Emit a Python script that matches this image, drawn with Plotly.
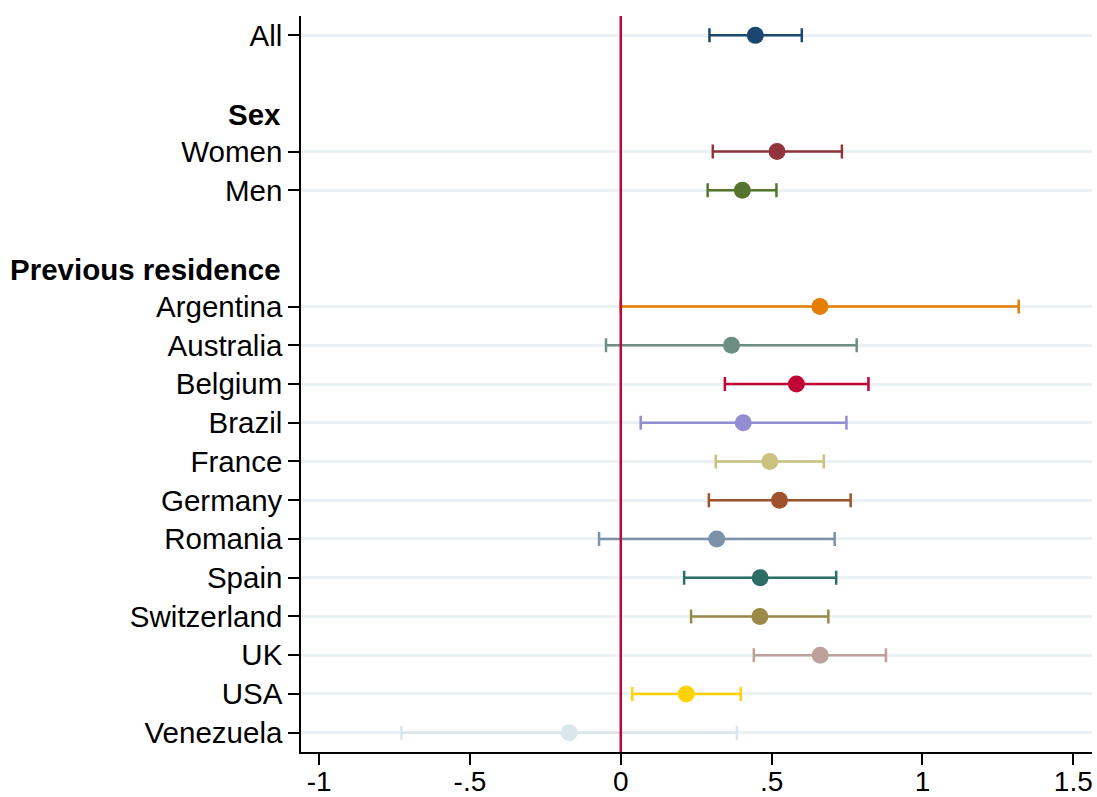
import plotly.graph_objects as go

# ---- data ----
group_headers = ["", "Sex", "Previous residence"]
group_members = [
    ["All"],
    ["Women", "Men"],
    ["Argentina", "Australia", "Belgium", "Brazil", "France", "Germany",
     "Romania", "Spain", "Switzerland", "UK", "USA", "Venezuela"],
]
estimates = [0.446, 0.518, 0.403, 0.660, 0.367, 0.582, 0.406, 0.494, 0.526,
             0.318, 0.462, 0.461, 0.661, 0.217, -0.171]
ci_low = [0.294, 0.305, 0.288, 0.000, -0.049, 0.345, 0.066, 0.315, 0.292,
          -0.072, 0.210, 0.233, 0.441, 0.038, -0.727]
ci_high = [0.600, 0.733, 0.516, 1.319, 0.782, 0.821, 0.748, 0.673, 0.762,
           0.709, 0.714, 0.688, 0.879, 0.398, 0.385]
colors = ["#1a476f", "#90353b", "#55752f", "#e37e00", "#6e8e84", "#c10534",
          "#938dd2", "#cac27e", "#a0522d", "#7b92a8", "#2d6d66", "#9c8847",
          "#bfa19c", "#ffd200", "#d9e6eb"]
x_tickvals = [-1, -0.5, 0, 0.5, 1, 1.5]
x_ticktext = ["-1", "-.5", "0", ".5", "1", "1.5"]

# ---- row layout ----
rows, labels, header_rows = [], [], []
r = 0
for gi, (h, members) in enumerate(zip(group_headers, group_members)):
    if gi > 0:
        r += 1  # blank row
    if h:
        header_rows.append((r, h))
        r += 1
    for m in members:
        rows.append(r)
        labels.append(m)
        r += 1

FONT = "Liberation Sans, Arial, Helvetica, sans-serif"
FS = 29.5
fig = go.Figure()

for i in range(len(labels)):
    fig.add_trace(go.Scatter(
        x=[estimates[i]], y=[rows[i]], mode="markers",
        marker=dict(color=colors[i], size=17, line=dict(width=0)),
        error_x=dict(type="data", symmetric=False,
                     array=[ci_high[i] - estimates[i]],
                     arrayminus=[estimates[i] - ci_low[i]],
                     color=colors[i], thickness=2.5, width=7),
        showlegend=False, name=labels[i], cliponaxis=False,
    ))

# reference line at zero
fig.add_shape(type="line", x0=0, x1=0, y0=0, y1=1, xref="x", yref="paper",
              line=dict(color="#c10534", width=2.5), layer="above")

for rr, h in header_rows:
    fig.add_annotation(text="<b>%s</b>" % h, x=0, xref="paper", y=rr, yref="y",
                       xanchor="right", yanchor="middle", xshift=-18, yshift=-2,
                       showarrow=False, font=dict(family=FONT, size=FS, color="black"))

fig.update_layout(
    width=1097, height=797,
    margin=dict(l=301, r=5, t=16, b=45),
    plot_bgcolor="white", paper_bgcolor="white",
    font=dict(family=FONT, size=FS, color="black"),
    xaxis=dict(range=[-1.06, 1.562], tickvals=x_tickvals, ticktext=x_ticktext,
               showgrid=False, zeroline=False, showline=True, linecolor="black",
               linewidth=1.5, ticks="outside", ticklen=11, tickwidth=1.5,
               tickcolor="black", tickfont=dict(size=28), automargin=False,
               ticklabelstandoff=-7),
    yaxis=dict(range=[18.5, -0.5], tickvals=rows, ticktext=labels,
               showgrid=True, gridcolor="#eaf2f3", gridwidth=2.5, zeroline=False,
               showline=True, linecolor="black", linewidth=1.5,
               ticks="outside", ticklen=11, tickwidth=1.5, tickcolor="black",
               tickfont=dict(size=FS), automargin=False),
)

fig.write_html("out.html")
